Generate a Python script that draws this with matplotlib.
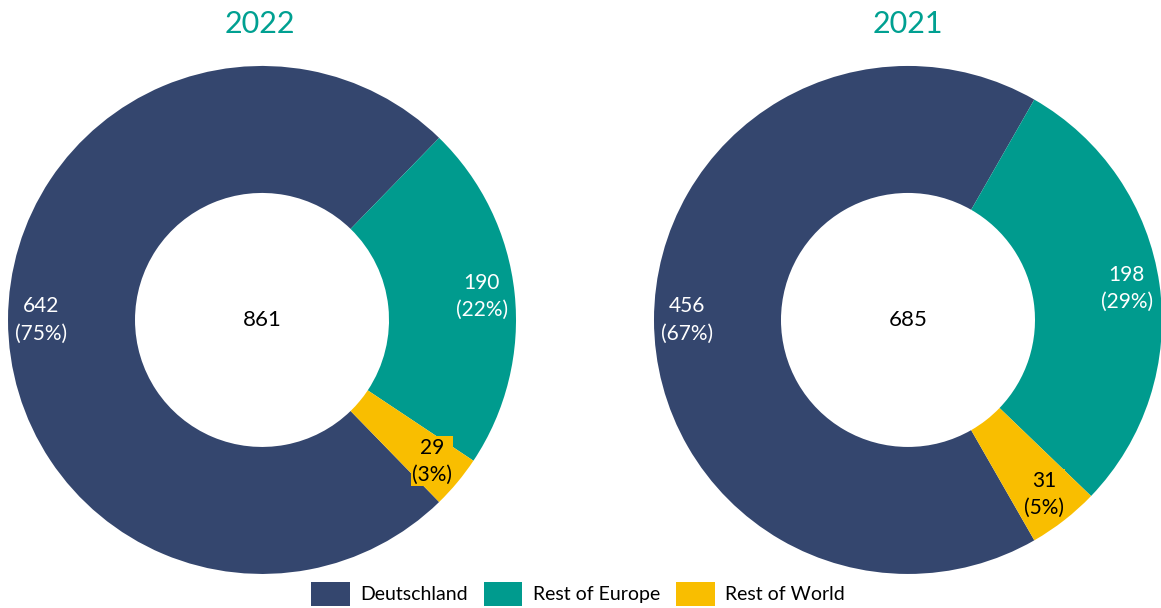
import matplotlib
matplotlib.use("Agg")
import matplotlib.pyplot as plt
from matplotlib.patches import Patch

plt.rcParams['font.family'] = ['Lato', 'DejaVu Sans']

categories = ["Deutschland", "Rest of Europe", "Rest of World"]
years = ["2022", "2021"]
values_2022 = [642, 190, 29]
values_2021 = [456, 198, 31]
colors = ["#34466E", "#009B8E", "#F9BE00"]
title_color = "#00A091"

fig = plt.figure(figsize=(11.61, 6.08), dpi=100)

# axes placed so each donut fills its half like the original
ax_left = fig.add_axes([0.0069, 0.056, 508 / 1161, 508 / 608])
ax_right = fig.add_axes([0.5633, 0.056, 508 / 1161, 508 / 608])


def draw_donut(ax, values, year, cx):
    total = sum(values)
    share = values[0] / total
    # Deutschland centered on the left side, slices run clockwise
    start = 180 + 180 * share
    vals = iter(values)

    def fmt(pct):
        v = next(vals)
        return f"{v}\n({pct:.0f}%)"

    wedges, texts, autotexts = ax.pie(
        values, colors=colors, startangle=start, counterclock=False,
        radius=1.0, wedgeprops=dict(width=0.5, edgecolor='none'),
        autopct=fmt, pctdistance=0.87,
        textprops=dict(fontsize=15, linespacing=1.45))
    for i, t in enumerate(autotexts):
        t.set_ha('center')
        t.set_va('center')
        if i == 2:
            t.set_color('black')
            t.set_bbox(dict(facecolor=colors[2], edgecolor='none', pad=1))
        else:
            t.set_color('white')
    ax.text(0, 0, str(total), ha='center', va='center', fontsize=16, color='black')
    ax.set_xlim(-1, 1)
    ax.set_ylim(-1, 1)
    ax.set_aspect('equal')
    fig.text(cx / 1161, 1 - 24 / 608, year, ha='center', va='center',
             fontsize=22, color=title_color)


draw_donut(ax_left, values_2022, years[0], 260)
draw_donut(ax_right, values_2021, years[1], 908)

handles = [Patch(facecolor=c, edgecolor='none') for c in colors]
fig.legend(handles, categories, loc='center', bbox_to_anchor=(578 / 1161, 1 - 594 / 608),
           ncol=3, frameon=False, fontsize=14, handlelength=2.0, handleheight=1.6,
           handletextpad=0.55, columnspacing=0.8)

fig.savefig("out.png", dpi=100, facecolor='white')
